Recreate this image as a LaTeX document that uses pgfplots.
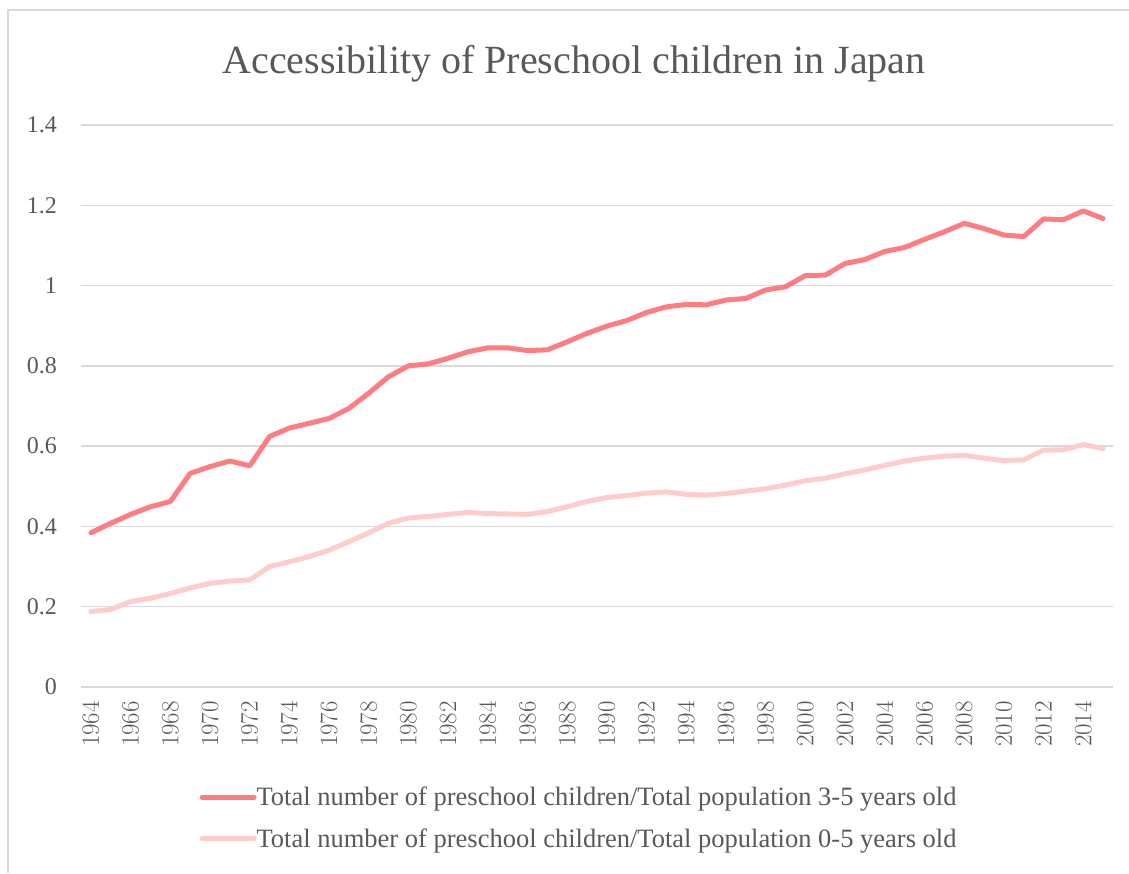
\documentclass[border=0pt]{standalone}
\usepackage{pgfplots}
\pgfplotsset{compat=1.18}
\usepackage{pgfplotstable}
\usepackage{fontspec}
\setmainfont{Liberation Serif}

\definecolor{txt}{HTML}{595959}
\definecolor{gridc}{HTML}{D9D9D9}
\definecolor{sThree}{HTML}{FF7C80}
\definecolor{sZero}{HTML}{FFCCCC}

% year, ratio for 3-5 year olds, ratio for 0-5 year olds
\pgfplotstableread{
year  a     b
1964  0.384 0.188
1965  0.408 0.193
1966  0.430 0.213
1967  0.449 0.221
1968  0.462 0.233
1969  0.532 0.247
1970  0.549 0.258
1971  0.563 0.264
1972  0.551 0.267
1973  0.624 0.300
1974  0.645 0.312
1975  0.657 0.325
1976  0.669 0.341
1977  0.694 0.362
1978  0.732 0.384
1979  0.773 0.408
1980  0.800 0.421
1981  0.805 0.425
1982  0.819 0.430
1983  0.835 0.435
1984  0.845 0.432
1985  0.845 0.431
1986  0.838 0.430
1987  0.840 0.437
1988  0.860 0.449
1989  0.881 0.462
1990  0.899 0.472
1991  0.913 0.477
1992  0.933 0.483
1993  0.947 0.486
1994  0.953 0.480
1995  0.952 0.478
1996  0.964 0.482
1997  0.968 0.488
1998  0.989 0.494
1999  0.997 0.503
2000  1.025 0.514
2001  1.026 0.520
2002  1.055 0.531
2003  1.065 0.541
2004  1.085 0.552
2005  1.095 0.563
2006  1.115 0.570
2007  1.134 0.575
2008  1.155 0.577
2009  1.142 0.570
2010  1.126 0.564
2011  1.122 0.566
2012  1.166 0.590
2013  1.164 0.591
2014  1.186 0.604
2015  1.167 0.594
}\datatable

\begin{document}
\begin{tikzpicture}[x=1pt,y=1pt]
  % page frame
  \path[use as bounding box] (0,0) rectangle (1129,873);
  \draw[gridc, line width=2pt] (8,0) -- (8,863) -- (1129,863);
  % title
  \node[txt, font=\fontsize{40}{44}\selectfont] at (574,809) {Accessibility of Preschool children in Japan};

  \begin{axis}[
    at={(81pt,186pt)}, anchor=south west,
    scale only axis, width=1032pt, height=562pt,
    xmin=1963.5, xmax=2015.5,
    ymin=0, ymax=1.4,
    xtick={1964,1966,...,2014},
    ytick={0,0.2,...,1.4},
    yticklabels={0,0.2,0.4,0.6,0.8,1,1.2,1.4},
    axis line style={draw=none},
    axis x line*=bottom,
    major tick length=0pt,
    ymajorgrids, grid style={gridc, line width=1.5pt},
    tick label style={txt, font=\fontsize{24}{28}\selectfont},
    yticklabel style={anchor=east, inner sep=0pt, xshift=-24pt},
    xticklabel style={font=\fontsize{28}{31}\selectfont, rotate=90, anchor=east, inner sep=0pt, xshift=-14pt},
    /pgf/number format/.cd, 1000 sep={}, /pgfplots/.cd,
    legend style={at={(0.4826,-0.233)}, anchor=center, draw=none, fill=none,
      font=\fontsize{26.5}{30}\selectfont, text=txt, row sep=17pt,
      /tikz/every even column/.append style={column sep=0pt},
      /tikz/every odd column/.append style={column sep=-2pt}},
    legend cell align=left,
    legend image code/.code={\draw[#1, line width=5pt, line cap=round] (0pt,0pt) -- (52pt,0pt);},
  ]
    \draw[gridc, line width=1.5pt] (axis cs:1963.5,0) -- (axis cs:2015.5,0);
    \addplot[sThree, line width=5pt, line join=round, line cap=round] table[x=year, y=a] {\datatable};
    \addlegendentry{Total number of preschool children/Total population 3-5 years old}
    \addplot[sZero, line width=5pt, line join=round, line cap=round] table[x=year, y=b] {\datatable};
    \addlegendentry{Total number of preschool children/Total population 0-5 years old}
  \end{axis}
\end{tikzpicture}
\end{document}
